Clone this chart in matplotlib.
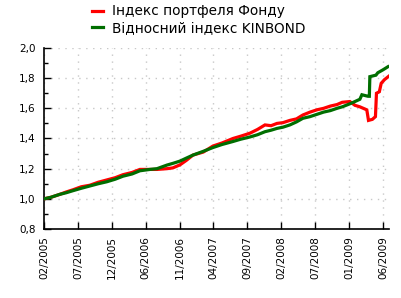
import matplotlib
matplotlib.use("Agg")
import matplotlib.pyplot as plt
from matplotlib.ticker import MultipleLocator, FuncFormatter

tick_labels = ["02/2005", "07/2005", "12/2005", "06/2006", "11/2006", "04/2007",
               "09/2007", "02/2008", "07/2008", "01/2009", "06/2009"]
tick_pos = [0, 20, 40, 60, 80, 100, 120, 140, 160, 180, 200]

fund_x = [0, 4, 9.4, 13, 17.1, 22, 27, 32, 37, 42, 46.6, 52, 56.6, 62.5, 66.7,
          72.6, 76, 80.2, 84, 87.9, 94, 99.7, 105, 111.5, 116, 121.5, 126, 130.4,
          134, 137.5, 141, 145.1, 149, 152.8, 157, 161, 165, 169, 172.9, 176,
          180.5, 183.5, 186.4, 190.5, 191.5, 193.8, 195.6, 196.2, 197.9, 199,
          200.9, 203.6]
fund_y = [1.00, 1.01, 1.03, 1.045, 1.06, 1.08, 1.09, 1.11, 1.125, 1.14, 1.16,
          1.175, 1.195, 1.195, 1.195, 1.20, 1.205, 1.225, 1.255, 1.29, 1.31,
          1.35, 1.37, 1.40, 1.415, 1.435, 1.46, 1.49, 1.485, 1.50, 1.505, 1.52,
          1.53, 1.556, 1.575, 1.59, 1.60, 1.615, 1.625, 1.64, 1.645, 1.62, 1.61,
          1.59, 1.52, 1.527, 1.545, 1.70, 1.71, 1.766, 1.79, 1.814]

bond_x = [0, 4, 9.4, 13, 17.1, 22, 27, 32, 37, 42, 46.6, 52, 56.6, 62.5, 66.7,
          72.6, 76, 80.2, 84, 87.9, 94, 99.7, 105, 111.5, 116, 121.5, 126, 130.4,
          134, 137.5, 141, 145.1, 149, 152.8, 157, 161, 165, 169, 172.9, 176,
          180.5, 183.5, 186.4, 187.6, 191.2, 192.0, 192.3, 195.9, 197, 200, 203]
bond_y = [1.00, 1.01, 1.03, 1.04, 1.054, 1.07, 1.085, 1.10, 1.113, 1.13, 1.15,
          1.165, 1.186, 1.195, 1.20, 1.224, 1.235, 1.25, 1.27, 1.29, 1.315, 1.34,
          1.36, 1.38, 1.395, 1.41, 1.425, 1.445, 1.455, 1.467, 1.475, 1.49, 1.51,
          1.534, 1.545, 1.56, 1.575, 1.585, 1.60, 1.61, 1.63, 1.645, 1.66, 1.69,
          1.68, 1.68, 1.81, 1.82, 1.836, 1.855, 1.876]

fig = plt.figure(figsize=(4.02, 2.98), dpi=100)
ax = fig.add_axes([44/402, 1-229/298, (389-44)/402, (229-48)/298])

l1, = ax.plot(fund_x, fund_y, color="#ff0000", lw=2.3,
              label="Індекс портфеля Фонду", zorder=3, solid_joinstyle="miter")
l2, = ax.plot(bond_x, bond_y, color="#006e00", lw=2.3,
              label="Відносний індекс KINBOND", zorder=4, solid_joinstyle="miter")

ax.set_xlim(0, 203.6)
ax.set_ylim(0.8, 2.0)
ax.set_xticks(tick_pos)
ax.set_xticklabels(tick_labels, rotation=90)
ax.yaxis.set_major_locator(MultipleLocator(0.2))
ax.yaxis.set_minor_locator(MultipleLocator(0.1))
ax.yaxis.set_major_formatter(FuncFormatter(lambda v, p: f"{v:.1f}".replace(".", ",")))
ax.tick_params(axis="both", which="major", direction="in", length=5, width=1,
               labelsize=7.5, colors="black")
ax.tick_params(axis="y", which="major", pad=6)
ax.tick_params(axis="x", which="major", pad=5)
ax.tick_params(axis="y", which="minor", direction="in", length=3, width=1)
for s in ["top", "right"]:
    ax.spines[s].set_visible(False)
for s in ["left", "bottom"]:
    ax.spines[s].set_linewidth(1.2)
ax.grid(True, which="major", color="#c8c8c8", linestyle=(0, (1, 4)), lw=1)
ax.set_axisbelow(True)

fig.legend(handles=[l1, l2], loc="upper left", bbox_to_anchor=(91/402, 1-3/298),
           frameon=False, fontsize=9.8, handlelength=0.75, handletextpad=0.7,
           labelspacing=0.2, borderpad=0.1, borderaxespad=0)
fig.savefig("out.png", dpi=100)
